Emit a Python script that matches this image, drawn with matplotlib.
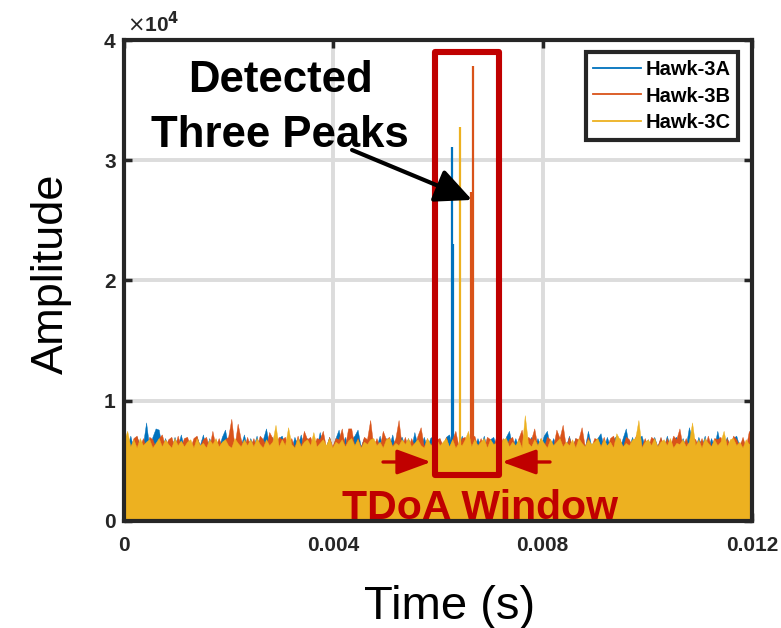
import numpy as np
import matplotlib
matplotlib.use("Agg")
import matplotlib.pyplot as plt
from matplotlib.lines import Line2D
from matplotlib.patches import Rectangle, ArrowStyle

plt.rcParams['font.family'] = ['Liberation Sans', 'DejaVu Sans']

# ---------------- data ----------------
series_names = ["Hawk-3A", "Hawk-3B", "Hawk-3C"]
series_colors = ["#0072BD", "#D95319", "#EDB120"]

# noise envelope samples (x1000 amplitude), evenly spaced over 0..0.012 s
hawk_a_noise = [
    6.9, 6.2, 7.1, 6.0, 7.0, 6.3, 6.4, 8.2, 6.1, 7.0,
    7.7, 7.6, 6.1, 6.9, 6.2, 6.0, 7.0, 6.2, 7.2, 6.1,
    6.8, 6.2, 6.0, 7.0, 6.3, 7.2, 6.0, 6.9, 6.2, 6.8,
    6.1, 7.0, 7.6, 6.2, 6.8, 6.0, 7.0, 6.3, 7.2, 6.1,
    6.9, 6.2, 7.1, 6.0, 6.8, 7.7, 6.2, 7.0, 6.1, 6.9,
    7.1, 6.2, 6.8, 6.0, 7.0, 6.3, 7.2, 6.1, 6.9, 6.2,
    7.0, 6.1, 7.4, 6.3, 6.2, 7.0, 6.0, 6.9, 7.6, 6.2,
    7.0, 6.1, 6.8, 7.1, 7.6, 6.2, 6.9, 6.0, 7.0, 6.3,
    6.2, 7.1, 6.0, 6.9, 6.2, 7.2, 6.0, 6.8, 7.0, 6.2,
    6.9, 6.1, 7.4, 6.3, 6.2, 7.0, 6.1, 6.9, 7.1, 6.2,
    6.8, 6.1, 7.0, 7.2, 6.2, 6.9, 6.1, 7.1, 6.2, 6.8,
    7.0, 6.1, 6.9, 6.2, 7.1, 6.0, 6.8, 7.0, 6.2, 6.9,
    6.1, 7.0, 7.5, 6.2, 6.9, 6.1, 7.1, 6.3, 6.2, 7.0,
    6.1, 6.9, 6.2, 7.1, 7.5, 6.2, 6.9, 6.1, 7.0, 6.3,
    6.2, 7.1, 6.0, 6.9, 6.2, 7.0, 6.1, 7.5, 6.3, 6.2,
    6.9, 7.3, 6.1, 7.0, 6.2, 6.8, 7.1, 6.0, 6.9, 7.7,
    6.2, 7.0, 6.1, 6.9, 7.1, 6.2, 6.8, 6.0, 7.0, 6.2,
    6.9, 6.1, 7.1, 6.2, 6.8, 7.0, 6.1, 6.9, 6.2, 7.8,
    6.8, 6.1, 7.0, 6.2, 7.1, 6.0, 6.9, 6.2, 7.5, 6.3,
    6.2, 7.0, 6.1, 6.9, 7.1, 6.2, 6.8, 6.0, 7.0, 6.9,
]
hawk_b_noise = [
    6.2, 7.0, 6.1, 6.9, 7.1, 6.2, 6.9, 6.0, 7.0, 6.8,
    6.1, 6.9, 7.2, 6.2, 6.8, 7.0, 6.1, 7.1, 6.2, 6.9,
    7.0, 6.1, 6.9, 7.1, 6.2, 6.8, 7.0, 6.1, 7.5, 6.2,
    6.9, 6.2, 6.8, 7.0, 8.5, 6.2, 8.1, 6.8, 6.1, 7.0,
    6.2, 6.9, 6.1, 7.1, 6.8, 6.2, 7.4, 6.9, 6.1, 7.0,
    6.8, 7.0, 6.2, 6.9, 6.1, 7.1, 6.2, 7.5, 6.8, 7.0,
    6.2, 6.9, 6.8, 7.5, 6.1, 7.0, 6.2, 6.9, 6.8, 7.7,
    6.2, 7.7, 7.7, 6.2, 6.9, 6.1, 7.0, 6.8, 8.4, 6.2,
    6.9, 6.1, 7.5, 6.8, 7.0, 6.2, 6.9, 8.4, 6.2, 7.0,
    6.1, 6.9, 6.2, 7.1, 7.8, 6.2, 6.9, 6.1, 7.0, 6.8,
    6.9, 6.2, 7.0, 6.1, 6.8, 7.5, 6.2, 6.9, 7.0, 6.1,
    6.8, 7.1, 6.2, 6.9, 6.1, 7.0, 6.8, 6.2, 7.1, 6.1,
    6.9, 6.2, 6.8, 7.0, 6.1, 6.9, 7.6, 6.2, 7.0, 6.8,
    7.7, 6.2, 6.9, 6.1, 7.0, 6.8, 6.2, 7.6, 6.9, 8.0,
    6.2, 7.0, 6.1, 6.9, 6.8, 7.8, 6.2, 7.0, 6.1, 6.9,
    6.8, 6.2, 7.0, 6.1, 6.9, 7.1, 6.2, 6.9, 6.1, 7.0,
    6.8, 6.2, 7.0, 7.5, 6.2, 6.9, 6.1, 7.0, 6.8, 6.2,
    7.0, 6.1, 6.9, 6.2, 7.1, 6.8, 7.7, 6.2, 6.9, 6.1,
    7.0, 6.8, 6.2, 6.9, 6.1, 7.1, 6.2, 6.9, 6.8, 7.0,
    6.1, 6.9, 6.2, 7.1, 6.8, 6.2, 7.0, 6.1, 7.5, 6.9,
]
hawk_c_noise = [
    6.7, 7.5, 6.2, 6.8, 6.1, 6.9, 6.3, 6.6, 6.8, 6.1,
    6.5, 6.9, 6.2, 6.8, 6.4, 6.1, 6.9, 6.3, 6.7, 6.2,
    6.6, 6.8, 6.1, 6.9, 6.3, 6.5, 6.1, 6.8, 6.4, 6.9,
    6.2, 6.6, 6.8, 6.3, 6.1, 6.9, 6.5, 6.2, 6.8, 6.3,
    6.8, 6.2, 6.9, 6.4, 6.1, 6.8, 6.3, 6.6, 8.0, 6.2,
    6.8, 6.3, 7.8, 6.4, 6.1, 6.9, 6.2, 6.6, 6.8, 6.3,
    7.4, 6.2, 6.5, 6.8, 6.3, 6.9, 6.1, 6.6, 6.4, 6.8,
    6.2, 6.7, 6.9, 6.3, 6.8, 6.1, 6.6, 6.4, 6.8, 6.9,
    6.3, 6.6, 6.1, 6.8, 6.9, 6.2, 6.5, 6.3, 6.8, 6.4,
    6.9, 6.2, 6.5, 6.8, 6.3, 6.1, 6.9, 6.4, 6.2, 6.8,
    6.3, 6.6, 6.9, 6.2, 6.8, 6.1, 6.5, 6.3, 6.8, 7.5,
    6.2, 6.8, 6.3, 6.6, 6.9, 6.1, 6.8, 6.4, 6.5, 6.2,
    6.8, 6.9, 6.2, 6.6, 6.3, 6.8, 6.1, 8.8, 6.5, 6.2,
    6.8, 6.3, 6.9, 6.5, 6.1, 6.8, 6.3, 6.6, 6.9, 6.2,
    6.6, 6.3, 6.8, 6.1, 6.9, 6.5, 6.2, 6.8, 6.4, 6.6,
    6.9, 6.2, 6.8, 6.3, 6.6, 6.1, 7.3, 6.8, 6.2, 6.5,
    6.3, 6.8, 6.9, 8.4, 6.1, 6.6, 6.8, 6.3, 6.9, 6.2,
    6.6, 6.8, 6.3, 6.9, 6.1, 6.5, 6.4, 6.8, 6.2, 6.6,
    8.2, 6.3, 6.8, 6.1, 6.9, 6.5, 6.2, 6.8, 6.3, 6.6,
    7.5, 6.2, 6.8, 6.9, 6.3, 6.6, 6.1, 6.8, 6.4, 6.6,
]

# detected peaks (time in s, amplitude)
hawk_a_peak_t = [0.00626, 0.00628]
hawk_a_peak_v = [31100, 23000]
hawk_b_peak_t = [0.00663, 0.00667]
hawk_b_peak_v = [27400, 37800]
hawk_c_peak_t = [0.00642]
hawk_c_peak_v = [32800]

t_start, t_end = 0.0, 0.012
x_ticks = [0, 0.004, 0.008, 0.012]
x_tick_labels = ["0", "0.004", "0.008", "0.012"]
y_ticks = [0, 10000, 20000, 30000, 40000]
y_tick_labels = ["0", "1", "2", "3", "4"]

# TDoA window (s) and its vertical extent
window_t = [0.005933, 0.007166]
window_amp = [3830, 39030]

# ---------------- figure ----------------
fig = plt.figure(figsize=(7.81, 6.28), dpi=100)
ax = fig.add_axes([0.1588, 0.1704, 0.8041, 0.7659])

noises = [hawk_a_noise, hawk_b_noise, hawk_c_noise]
peaks_t = [hawk_a_peak_t, hawk_b_peak_t, hawk_c_peak_t]
peaks_v = [hawk_a_peak_v, hawk_b_peak_v, hawk_c_peak_v]

for noise, pt, pv, col in zip(noises, peaks_t, peaks_v, series_colors):
    vals = np.array(noise) * 1000.0
    t = np.linspace(t_start, t_end, len(vals))
    ax.fill_between(t, 0, vals, color=col, linewidth=0.3, edgecolor=col, zorder=2)
    ax.vlines(pt, 0, pv, color=col, linewidth=1.6, zorder=2)

ax.set_xlim(t_start, t_end)
ax.set_ylim(0, 40000)
ax.set_xticks(x_ticks)
ax.set_xticklabels(x_tick_labels)
ax.set_yticks(y_ticks)
ax.set_yticklabels(y_tick_labels)

ax.set_axisbelow(True)
ax.grid(True, color="#dcdcdc", linewidth=2.8)

for sp in ax.spines.values():
    sp.set_color("#262626")
    sp.set_linewidth(3)
    sp.set_zorder(10)

ax.tick_params(axis="both", direction="in", length=6, width=2.5, color="#262626",
               top=True, right=True, labelsize=15, labelcolor="#262626")
ax.tick_params(axis="x", pad=11)
ax.tick_params(axis="y", pad=6)
for lab in ax.get_xticklabels() + ax.get_yticklabels():
    lab.set_fontweight("bold")

ax.text(0.004, 1.008, r"$\times$10$^{\mathbf{4}}$", transform=ax.transAxes,
        fontsize=15, fontweight="bold", color="#262626", va="bottom", ha="left")

ax.set_xlabel("Time (s)", fontsize=34)
ax.xaxis.set_label_coords(0.519, -0.133)
ax.set_ylabel("Amplitude", fontsize=32.5)
ax.yaxis.set_label_coords(-0.083, 0.513)

# TDoA window rectangle
rect = Rectangle((window_t[0], window_amp[0]), window_t[1] - window_t[0],
                 window_amp[1] - window_amp[0], fill=False, edgecolor="#C00000",
                 linewidth=4.4, joinstyle="round", zorder=5)
ax.add_patch(rect)

# red arrows pointing at window
red_style = ArrowStyle("-|>", head_length=1.5, head_width=0.55)
ax.annotate("", xy=(0.005866, 4906), xytext=(0.004949, 4906),
            arrowprops=dict(arrowstyle=red_style, mutation_scale=14, color="#C00000",
                            lw=2.4, shrinkA=0, shrinkB=0), zorder=6)
ax.annotate("", xy=(0.007223, 4906), xytext=(0.008140, 4906),
            arrowprops=dict(arrowstyle=red_style, mutation_scale=14, color="#C00000",
                            lw=2.4, shrinkA=0, shrinkB=0), zorder=6)

ax.text(0.006803, 200, "TDoA Window", color="#C00000", fontsize=29.5,
        fontweight="bold", ha="center", va="baseline", zorder=6)

ax.text(0.002981, 35676, "Detected", color="black", fontsize=31.5,
        fontweight="bold", ha="center", va="baseline", zorder=6)
ax.text(0.002981, 31102, "Three Peaks", color="black", fontsize=31.5,
        fontweight="bold", ha="center", va="baseline", zorder=6)

blk_style = ArrowStyle("-|>", head_length=1.6, head_width=0.75)
ax.annotate("", xy=(0.006650, 26700), xytext=(0.004357, 30852),
            arrowprops=dict(arrowstyle=blk_style, mutation_scale=14, color="black",
                            lw=3.0, shrinkA=0, shrinkB=0), zorder=6)

handles = [Line2D([], [], color=c, lw=1.3) for c in series_colors]
leg = ax.legend(handles, series_names, loc="upper right", bbox_to_anchor=(0.978, 0.975),
                borderaxespad=0, prop=dict(weight="bold", size=14.5), handlelength=2.34,
                handletextpad=0.25, borderpad=0.38, labelspacing=0.39, fancybox=False,
                framealpha=1)
leg.get_frame().set_edgecolor("#262626")
leg.get_frame().set_linewidth(3)
leg.set_zorder(11)

fig.savefig("out.png", dpi=100)
